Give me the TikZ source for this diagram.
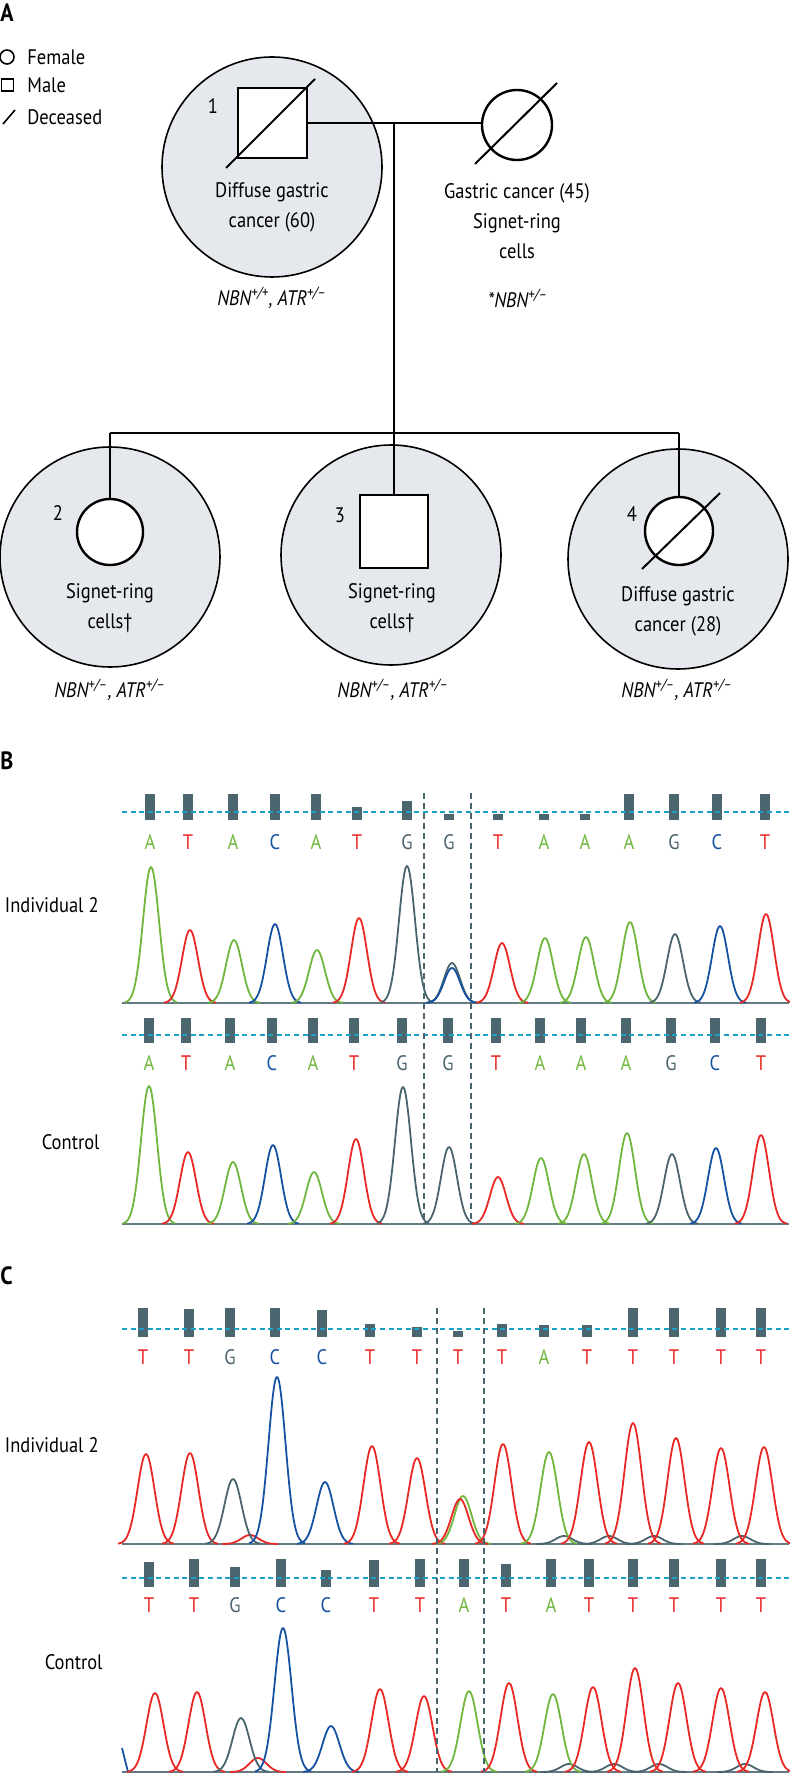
\documentclass[tikz,border=0pt]{standalone}
\usepackage{fontspec}
\setmainfont{PT Sans}[FakeStretch=0.88]
\usetikzlibrary{positioning}

\definecolor{haloGray}{RGB}{229,232,236}
\definecolor{barSlate}{RGB}{76,102,112}
\definecolor{cutCyan}{RGB}{27,160,200}
\definecolor{colA}{RGB}{112,182,62}
\definecolor{colT}{RGB}{232,40,36}
\definecolor{colC}{RGB}{22,82,162}
\definecolor{colG}{RGB}{74,100,110}

\begin{document}
\begin{tikzpicture}[x=0.5pt, y=-0.5pt,
    font=\fontsize{10.5}{15}\selectfont,
    panel/.style={anchor=west, inner sep=0pt, font=\fontsize{12.5}{12.5}\selectfont\bfseries},
    halo/.style={circle, draw, fill=haloGray, line width=0.8pt, minimum size=110pt, inner sep=0pt},
    male/.style={rectangle, draw, fill=white, line width=1.2pt, minimum width=34.5pt, minimum height=35pt, inner sep=0pt},
    female/.style={circle, draw, fill=white, line width=1.2pt, minimum size=33pt, inner sep=0pt},
    ped/.style={line width=1pt},
    dx/.style={align=center, inner sep=0pt},
    seq/.style={inner sep=0pt},
    cyanDash/.style={draw=cutCyan, line width=1.2pt, dash pattern=on 2.5pt off 1.8pt},
    cutV/.style={draw=colG, line width=0.7pt, dash pattern=on 3pt off 2pt},
    trace/.style={line width=0.9pt, line join=round},
    zero/.style={draw=colG!85, line width=1.2pt}]
    \useasboundingbox (0,0) rectangle (789,1775);

    \node[panel] (panA) at (0,13) {A};
    \node[female, minimum size=7pt, line width=0.8pt] (lgF) at (7,57) {};
    \node[male, minimum width=6pt, minimum height=6pt, line width=0.8pt] (lgM) at (7.5,85) {};
    \coordinate (lgD1) at (3,124);
    \coordinate (lgD2) at (15,110);
    \draw[line width=0.8pt] (lgD1) -- (lgD2);
    \node[anchor=west, inner sep=0pt] (lgFt) at (27,57) {Female};
    \node[anchor=west, inner sep=0pt] (lgMt) at (27,85) {Male};
    \node[anchor=west, inner sep=0pt] (lgDt) at (27,117) {Deceased};

    \node[halo] (h1) at (272,167) {};
    \node[halo] (h2) at (110,557) {};
    \node[halo] (h3) at (391,555) {};
    \node[halo] (h4) at (678,559) {};

    \node[male] (p1) at (272.5,123) {};
    \node[female, minimum size=35pt] (p0) at (517,125) {};
    \node[female] (c2) at (110,532) {};
    \node[male, minimum width=34pt, minimum height=36.5pt] (c3) at (394,531.5) {};
    \node[female, minimum size=34pt] (c4) at (679,531) {};

    \coordinate (drop) at (394,123);
    \coordinate (sib) at (394,433);
    \draw[ped] (p1.east) -- (p1.east -| p0.west);
    \draw[ped] (drop) -- (c3.north);
    \draw[ped] (c2.north |- sib) -- (c4.north |- sib);
    \draw[ped] (c2.north |- sib) -- (c2.north);
    \draw[ped] (c4.north |- sib) -- (c4.north);

    \draw[ped] (226,168) -- (315,79);
    \draw[ped] (475,164) -- (557,83);
    \draw[ped] (642,569) -- (720,493);

    \node (n1) at (213,106) {1};
    \node (n2) at (58,513) {2};
    \node (n3) at (340,515) {3};
    \node (n4) at (632,514) {4};

    \node[dx] (d1) at (272,207) {Diffuse gastric\\cancer (60)};
    \node[dx] (d0) at (517,221) {Gastric cancer (45)\\Signet-ring\\cells};
    \node[dx] (d2) at (110,608) {Signet-ring\\cells\textdagger};
    \node[dx] (d3) at (392,608) {Signet-ring\\cells\textdagger};
    \node[dx] (d4) at (678,611) {Diffuse gastric\\cancer (28)};

    \node (g1) at (272,298) {\textit{NBN\textsuperscript{+/+}, ATR\textsuperscript{+/–}}};
    \node (g0) at (518,298) {\textit{*NBN\textsuperscript{+/–}}};
    \node (g2) at (110,690) {\textit{NBN\textsuperscript{+/–}, ATR\textsuperscript{+/–}}};
    \node (g3) at (393,690) {\textit{NBN\textsuperscript{+/–}, ATR\textsuperscript{+/–}}};
    \node (g4) at (677,690) {\textit{NBN\textsuperscript{+/–}, ATR\textsuperscript{+/–}}};

    \node[panel] (panB) at (0,761) {B};
    \node[anchor=east, inner sep=0pt] (lbB1) at (99,905) {Individual 2};
    \node[anchor=east, inner sep=0pt] (lbB2) at (100,1142) {Control};

    \foreach \bx/\by/\nt [count=\i] in {150/794/A,188/794/T,233/794/A,275/794/C,316/794/A,357/807/T,407/801/G,449/814/G,498/814/T,544/814/A,585/814/A,629/794/A,674/794/G,717/794/C,765/794/T}
        {\fill[barSlate] (\bx-5,\by) rectangle (\bx+5,820);
         \node[seq, text=col\nt] (bTop\i) at (\bx,842) {\nt};}
    \draw[cyanDash] (122,812) -- (789,812);
    \draw[zero] (122,1003) -- (789,1003);
    \foreach \cx/\cy/\nt in {151/867/A,190/930/T,234/940/A,275/924/C,317/950/A,359/918/T,407/866/G,452/963/G,452/968/C,502/943/T,545/938/A,586/937/A,630/922/A,675/934/G,720/926/C,766/914/T}
        {\draw[trace, draw=col\nt] plot[domain=\cx-26:\cx+26, samples=41, smooth] (\x,{1003-(1003-\cy)*exp(-0.5*((\x-\cx)/8)*((\x-\cx)/8))});}

    \foreach \bx/\nt [count=\i] in {149/A,186/T,230/A,272/C,313/A,354/T,402/G,448/G,496/T,540/A,581/A,626/A,671/G,715/C,761/T}
        {\fill[barSlate] (\bx-5,1018) rectangle (\bx+5,1043);
         \node[seq, text=col\nt] (bBot\i) at (\bx,1063) {\nt};}
    \draw[cyanDash] (122,1035) -- (789,1035);
    \draw[zero] (122,1224) -- (789,1224);
    \foreach \cx/\cy/\nt in {149/1086/A,188/1152/T,233/1162/A,273/1145/C,314/1172/A,356/1139/T,403/1087/G,449/1147/G,498/1177/T,541/1158/A,584/1154/A,627/1133/A,672/1154/G,716/1148/C,761/1135/T}
        {\draw[trace, draw=col\nt] plot[domain=\cx-26:\cx+26, samples=41, smooth] (\x,{1224-(1224-\cy)*exp(-0.5*((\x-\cx)/8)*((\x-\cx)/8))});}

    \coordinate (bcutL1) at (424,793);
    \coordinate (bcutL2) at (424,1224);
    \coordinate (bcutR1) at (471,793);
    \coordinate (bcutR2) at (471,1224);
    \draw[cutV] (bcutL1) -- (bcutL2);
    \draw[cutV] (bcutR1) -- (bcutR2);

    \node[panel] (panC) at (0,1276) {C};
    \node[anchor=east, inner sep=0pt] (lbC1) at (99,1445) {Individual 2};
    \node[anchor=east, inner sep=0pt] (lbC2) at (103,1662) {Control};

    \foreach \bx/\by/\nt [count=\i] in {143/1308/T,189/1309/T,230/1308/G,275/1308/C,322/1310/C,370/1324/T,417/1327/T,458/1331/T,502/1324/T,544/1325/A,587/1325/T,633/1308/T,674/1308/T,721/1308/T,761/1308/T}
        {\fill[barSlate] (\bx-5,\by) rectangle (\bx+5,1337);
         \node[seq, text=col\nt] (cTop\i) at (\bx,1357) {\nt};}
    \draw[cyanDash] (122,1329) -- (789,1329);
    \draw[zero] (122,1544) -- (789,1544);
    \foreach \cx/\cy/\nt in {250/1535/T,564/1536/G,609/1536/G,654/1536/G,742/1536/G,146/1454/T,190/1453/T,233/1479/G,277/1377/C,325/1482/C,372/1446/T,417/1458/T,463/1496/A,460/1499/T,503/1444/T,549/1452/A,589/1442/T,633/1423/T,676/1438/T,721/1448/T,764/1447/T}
        {\draw[trace, draw=col\nt] plot[domain=\cx-28:\cx+28, samples=41, smooth] (\x,{1544-(1544-\cy)*exp(-0.5*((\x-\cx)/8.5)*((\x-\cx)/8.5))});}

    \foreach \bx/\by/\nt [count=\i] in {149/1562/T,194/1559/T,235/1567/G,281/1559/C,326/1570/C,374/1560/T,420/1559/T,464/1559/A,506/1564/T,551/1559/A,589/1559/T,633/1559/T,674/1559/T,721/1559/T,761/1559/T}
        {\fill[barSlate] (\bx-5,\by) rectangle (\bx+5,1587);
         \node[seq, text=col\nt] (cBot\i) at (\bx,1605) {\nt};}
    \draw[cyanDash] (122,1578) -- (789,1578);
    \draw[zero] (122,1772) -- (789,1772);
    \draw[trace, draw=colC] (122,1748) -- (128,1772);
    \foreach \cx/\cy/\nt in {258/1758/T,569/1764/G,614/1764/G,659/1764/G,745/1764/G,155/1693/T,197/1692/T,241/1718/G,283/1628/C,331/1726/C,380/1689/T,424/1696/T,469/1691/A,509/1683/T,553/1694/A,593/1687/T,635/1668/T,678/1683/T,721/1688/T,765/1692/T}
        {\draw[trace, draw=col\nt] plot[domain=\cx-28:\cx+28, samples=41, smooth] (\x,{1772-(1772-\cy)*exp(-0.5*((\x-\cx)/8.5)*((\x-\cx)/8.5))});}

    \coordinate (ccutL1) at (437,1308);
    \coordinate (ccutL2) at (437,1772);
    \coordinate (ccutR1) at (484,1308);
    \coordinate (ccutR2) at (484,1772);
    \draw[cutV] (ccutL1) -- (ccutL2);
    \draw[cutV] (ccutR1) -- (ccutR2);
\end{tikzpicture}
\end{document}
